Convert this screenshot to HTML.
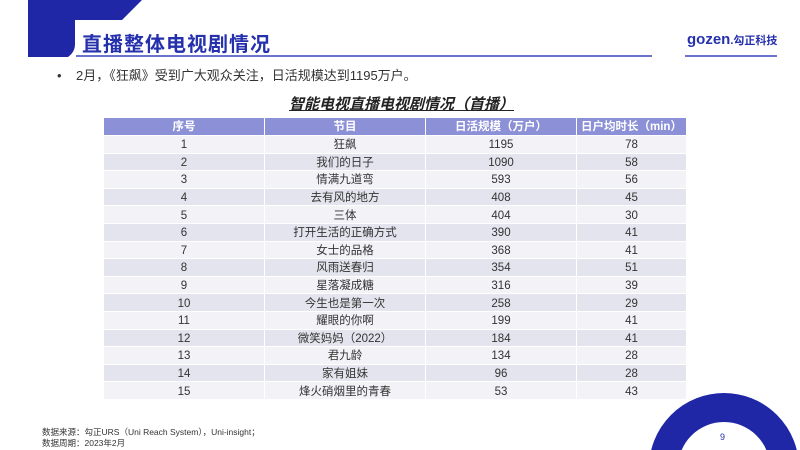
<!DOCTYPE html>
<html><head><meta charset="utf-8"><style>
body{margin:0;width:800px;height:450px;overflow:hidden;background:#fff;position:relative;font-family:"Liberation Sans","Noto Sans CJK SC",sans-serif;}
.a{position:absolute;}
table{border-collapse:collapse;position:absolute;left:103px;top:117px;width:584px;font-size:11.5px;color:#333;}
td,th{border:1px solid #fff;text-align:center;padding:0;height:16.6px;line-height:16px;}
td span{position:relative;top:1px;}
th{background:#8c90d6;color:#fff;font-weight:bold;font-size:11.5px;height:17px;}
tr:nth-child(odd) td{background:#e4e4ee;}
tr:nth-child(even) td{background:#f2f2f7;}
</style></head><body>
<svg class="a" style="left:0;top:0" width="800" height="450">
<path d="M28 0 H142 L122 20 H75 V44 Q75 52 68 57 H28 Z" fill="#1f27a6"/>
<line x1="76" y1="56" x2="652" y2="56" stroke="#3a45b8" stroke-width="1.5"/>
<line x1="685" y1="56" x2="777" y2="56" stroke="#3a45b8" stroke-width="1.5"/>
<circle cx="724" cy="468" r="60.5" fill="none" stroke="#1f27a6" stroke-width="29"/>
</svg>
<div class="a" style="left:82px;top:28px;font-size:20px;font-weight:bold;color:#2530ad;letter-spacing:1px;">直播整体电视剧情况</div>
<div class="a" style="left:687px;top:31px;font-size:15px;font-weight:bold;color:#2530ad;">gozen<span style="font-size:11px">.勾正科技</span></div>
<div class="a" style="left:57px;top:65px;font-size:13px;color:#333;">•&nbsp;&nbsp;&nbsp;&nbsp;2月，《狂飙》受到广大观众关注，日活规模达到1195万户。</div>
<div class="a" style="left:289px;top:93px;font-size:15px;font-weight:bold;font-style:italic;text-decoration:underline;color:#222;">智能电视直播电视剧情况（首播）</div>
<table>
<tr><th style="width:160px">序号</th><th style="width:160px">节目</th><th style="width:150px">日活规模（万户）</th><th>日户均时长（min）</th></tr>
<tr><td><span>1</span></td><td><span>狂飙</span></td><td><span>1195</span></td><td><span>78</span></td></tr>
<tr><td><span>2</span></td><td><span>我们的日子</span></td><td><span>1090</span></td><td><span>58</span></td></tr>
<tr><td><span>3</span></td><td><span>情满九道弯</span></td><td><span>593</span></td><td><span>56</span></td></tr>
<tr><td><span>4</span></td><td><span>去有风的地方</span></td><td><span>408</span></td><td><span>45</span></td></tr>
<tr><td><span>5</span></td><td><span>三体</span></td><td><span>404</span></td><td><span>30</span></td></tr>
<tr><td><span>6</span></td><td><span>打开生活的正确方式</span></td><td><span>390</span></td><td><span>41</span></td></tr>
<tr><td><span>7</span></td><td><span>女士的品格</span></td><td><span>368</span></td><td><span>41</span></td></tr>
<tr><td><span>8</span></td><td><span>风雨送春归</span></td><td><span>354</span></td><td><span>51</span></td></tr>
<tr><td><span>9</span></td><td><span>星落凝成糖</span></td><td><span>316</span></td><td><span>39</span></td></tr>
<tr><td><span>10</span></td><td><span>今生也是第一次</span></td><td><span>258</span></td><td><span>29</span></td></tr>
<tr><td><span>11</span></td><td><span>耀眼的你啊</span></td><td><span>199</span></td><td><span>41</span></td></tr>
<tr><td><span>12</span></td><td><span>微笑妈妈（2022）</span></td><td><span>184</span></td><td><span>41</span></td></tr>
<tr><td><span>13</span></td><td><span>君九龄</span></td><td><span>134</span></td><td><span>28</span></td></tr>
<tr><td><span>14</span></td><td><span>家有姐妹</span></td><td><span>96</span></td><td><span>28</span></td></tr>
<tr><td><span>15</span></td><td><span>烽火硝烟里的青春</span></td><td><span>53</span></td><td><span>43</span></td></tr>
</table>
<div class="a" style="left:42px;top:427px;font-size:8.5px;color:#333;line-height:11px;">数据来源：勾正URS（Uni Reach System），Uni-insight；<br>数据周期：2023年2月</div>
<div class="a" style="left:720px;top:432px;font-size:9px;color:#2530ad;">9</div>
</body></html>
